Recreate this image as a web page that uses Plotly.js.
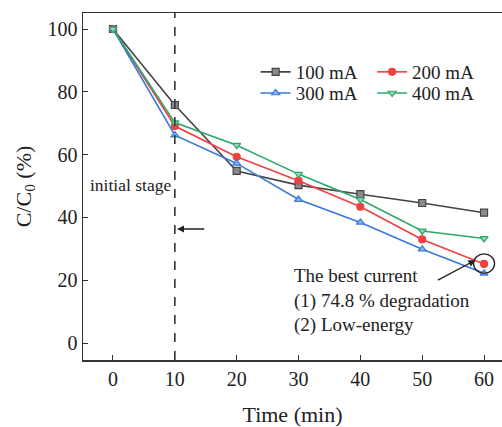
<!DOCTYPE html>
<html>
<head>
<meta charset="utf-8">
<script src="https://cdn.plot.ly/plotly-3.0.1.min.js"></script>
<style>html,body{margin:0;padding:0;background:#fff;}#chart{width:502px;height:427px;}</style>
</head>
<body>
<div id="chart"></div>
<script>
var time = [0, 10, 20, 30, 40, 50, 60];
var s100 = [100, 75.8, 54.8, 50.3, 47.4, 44.6, 41.5];
var s200 = [100, 69.1, 59.3, 51.7, 43.4, 33.0, 25.2];
var s300 = [100, 66.2, 57.2, 45.7, 38.4, 29.9, 22.2];
var s400 = [100, 70.2, 63.0, 53.8, 45.7, 35.7, 33.3];
var seriesNames = ['100 mA', '200 mA', '300 mA', '400 mA'];
var xTicks = [0, 10, 20, 30, 40, 50, 60];
var yTicks = [0, 20, 40, 60, 80, 100];

var FONT = 'Liberation Serif, Times New Roman, serif';
function tr(y, name, color, fill, sym, leg) {
  return {
    x: time, y: y, name: name, type: 'scatter', mode: 'lines+markers', legend: leg,
    line: {color: color, width: 1.6},
    marker: {symbol: sym, size: 7, color: fill, line: {color: color, width: 1.2}}
  };
}
var data = [
  tr(s100, seriesNames[0], '#444444', '#8a8a8a', 'square', 'legend'),
  tr(s200, seriesNames[1], '#f04040', '#f04040', 'circle', 'legend2'),
  tr(s300, seriesNames[2], '#3a78d8', '#8fb3ec', 'triangle-up', 'legend3'),
  tr(s400, seriesNames[3], '#2ea86a', '#94d4b2', 'triangle-down', 'legend4')
];
function leg(x, y) {
  return {x: x, y: y, xanchor: 'left', yanchor: 'middle', bgcolor: 'rgba(0,0,0,0)',
          font: {family: FONT, size: 19, color: '#222'}, tracegroupgap: 0};
}

var layout = {
  width: 502, height: 427,
  margin: {l: 83, r: 0, t: 13, b: 67},
  paper_bgcolor: '#fff', plot_bgcolor: '#fff',
  font: {family: FONT, color: '#222', size: 18},
  showlegend: true,
  legend: leg(0.412, 0.83),
  legend2: leg(0.69, 0.83),
  legend3: leg(0.412, 0.769),
  legend4: leg(0.69, 0.769),
  xaxis: {
    range: [-4.85, 62.9], tickvals: xTicks, ticks: 'inside', ticklen: 5,
    tickcolor: '#333', showline: true, linecolor: '#333', linewidth: 1.5,
    mirror: true, showgrid: false, zeroline: false,
    tickfont: {family: FONT, size: 20, color: '#222'},
    title: {text: 'Time (min)', font: {family: FONT, size: 22, color: '#222'}, standoff: 20}
  },
  yaxis: {
    range: [-5.4, 105.1], tickvals: yTicks, ticks: 'inside', ticklen: 5,
    tickcolor: '#333', showline: true, linecolor: '#333', linewidth: 1.5,
    mirror: false, showgrid: false, zeroline: false,
    tickfont: {family: FONT, size: 20, color: '#222'},
    title: {text: 'C/C<sub>0</sub> (%)', font: {family: FONT, size: 22, color: '#222'}, standoff: 10}
  },
  shapes: [
    {type: 'line', xref: 'x', yref: 'paper', x0: 10, x1: 10, y0: 0, y1: 1,
     line: {color: '#333', width: 1.6, dash: 'dash'}},
    {type: 'circle', xref: 'x', yref: 'y', x0: 58.3, x1: 61.7, y0: 22.2, y1: 28.4,
     line: {color: '#222', width: 1.3}}
  ],
  annotations: [
    {x: -4.0, y: 50.3, xref: 'x', yref: 'y', text: 'initial stage', showarrow: false,
     xanchor: 'left', yanchor: 'middle', font: {family: FONT, size: 17.5, color: '#222'}},
    {x: 10.35, y: 36.3, ax: 15.0, ay: 36.3, xref: 'x', yref: 'y', axref: 'x', ayref: 'y',
     text: '', showarrow: true, arrowhead: 2, arrowsize: 1, arrowwidth: 1.4, arrowcolor: '#222'},
    {x: 58.6, y: 26.4, ax: 52.3, ay: 19.8, xref: 'x', yref: 'y', axref: 'x', ayref: 'y',
     text: '', showarrow: true, arrowhead: 2, arrowsize: 1, arrowwidth: 1.4, arrowcolor: '#222'},
    {x: 28.9, y: 25.6, xref: 'x', yref: 'y', showarrow: false, xanchor: 'left', yanchor: 'top',
     align: 'left',
     text: 'The best current<br>(1) 74.8 % degradation<br>(2) Low-energy',
     font: {family: FONT, size: 19, color: '#222'}}
  ]
};
Plotly.newPlot('chart', data, layout, {displayModeBar: false, staticPlot: true});
</script>
</body>
</html>
